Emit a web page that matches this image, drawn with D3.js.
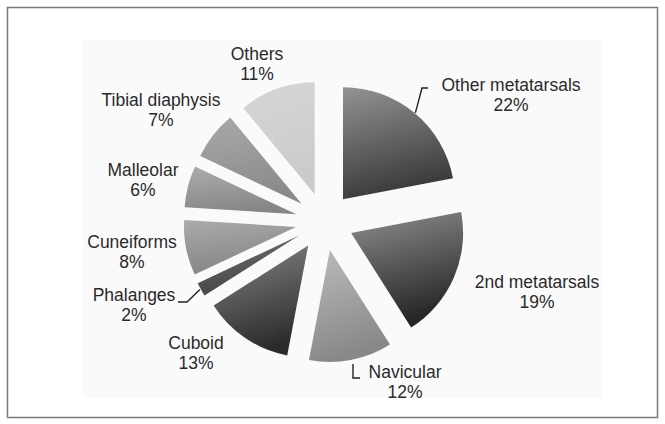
<!DOCTYPE html>
<html>
<head>
<meta charset="utf-8">
<script src="https://cdn.jsdelivr.net/npm/d3@7"></script>
<style>
  html, body { margin: 0; padding: 0; background: #fff; }
  svg { display: block; }
  text { font-family: "Liberation Sans", Arial, Helvetica, sans-serif; fill: #2a2a2a; }
</style>
</head>
<body>
<svg id="chart" width="665" height="424"></svg>
<script>
// ---- data ----
const categories = ["Other metatarsals", "2nd metatarsals", "Navicular", "Cuboid", "Phalanges",
                    "Cuneiforms", "Malleolar", "Tibial diaphysis", "Others"];
const values = [22, 19, 12, 13, 2, 8, 6, 7, 11];
const valueLabels = ["22%", "19%", "12%", "13%", "2%", "8%", "6%", "7%", "11%"];

// ---- styles (separate from data) ----
const gradTop    = ["#939393", "#8e8e8e", "#bcbcbc", "#858585", "#6e6e6e", "#ababab", "#adadad", "#aaaaaa", "#d6d6d6"];
const gradBottom = ["#3a3a3a", "#262626", "#888888", "#2c2c2c", "#474747", "#858585", "#868686", "#8a8a8a", "#cbcbcb"];

// ---- layout ----
const W = 665, H = 424;
const cx = 324.5, cy = 221.5, R = 112, explode = 29;
// label anchor (centre x, first baseline y)
const labelPos = [[511, 91], [537, 288], [405, 378], [196, 349], [134, 301],
                  [132, 248], [143, 176], [161, 106], [257, 60]];
const lineGap = 20;

const svg = d3.select("#chart");

// frame
svg.append("rect").attr("x", 7.5).attr("y", 7.5).attr("width", 650).attr("height", 410)
  .attr("fill", "#fff").attr("stroke", "#7a7a7a").attr("stroke-width", 1.5);
// faint scanned figure background
svg.append("polygon")
  .attr("points", "83,40 602,40 602,398 83,398")
  .attr("fill", "#fafafa");

const defs = svg.append("defs");
values.forEach((v, i) => {
  const g = defs.append("linearGradient").attr("id", "g" + i)
    .attr("x1", 0).attr("y1", 0).attr("x2", 0.25).attr("y2", 1);
  g.append("stop").attr("offset", "0%").attr("stop-color", gradTop[i]);
  g.append("stop").attr("offset", "100%").attr("stop-color", gradBottom[i]);
});
defs.append("filter").attr("id", "soft")
  .append("feGaussianBlur").attr("stdDeviation", 0.6);

const pie = d3.pie().sort(null).value(d => d).startAngle(0).endAngle(2 * Math.PI);
const arcs = pie(values);
const arc = d3.arc().innerRadius(0).outerRadius(R);

const g = svg.append("g").attr("transform", `translate(${cx},${cy})`);

function offset(d) {
  const m = (d.startAngle + d.endAngle) / 2;
  return [explode * Math.sin(m), -explode * Math.cos(m)];
}

g.selectAll("path.slice").data(arcs).enter().append("path")
  .attr("class", "slice")
  .attr("transform", d => { const o = offset(d); return `translate(${o[0]},${o[1]})`; })
  .attr("d", arc)
  .attr("fill", (d, i) => `url(#g${i})`)
  .attr("filter", "url(#soft)");

// leader lines for selected slices: start at outer arc mid-point
function arcMid(i) {
  const d = arcs[i];
  const m = (d.startAngle + d.endAngle) / 2;
  const o = offset(d);
  return [cx + o[0] + R * Math.sin(m), cy + o[1] - R * Math.cos(m)];
}
const leaders = [
  { i: 0, pts: p => [[p[0] + 1, p[1]], [422, 88], [428, 88]] },
  { i: 4, pts: p => [[p[0] - 1, p[1]], [187, 302], [178, 302]] },
  { i: 2, pts: p => [[353, p[1] + 4], [353, 378], [360, 378]] }
];
leaders.forEach(L => {
  const p = arcMid(L.i);
  svg.append("path")
    .attr("d", d3.line()(L.pts(p)))
    .attr("fill", "none").attr("stroke", "#222").attr("stroke-width", 1.4);
});

// labels
const lab = svg.append("g").attr("font-size", 17.5).attr("text-anchor", "middle");
categories.forEach((c, i) => {
  const t = lab.append("text").attr("x", labelPos[i][0]).attr("y", labelPos[i][1]);
  t.append("tspan").attr("x", labelPos[i][0]).text(c);
  t.append("tspan").attr("x", labelPos[i][0]).attr("dy", lineGap).text(valueLabels[i]);
});
</script>
</body>
</html>
